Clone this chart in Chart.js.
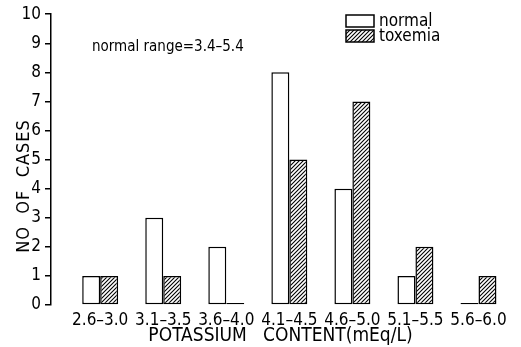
<!DOCTYPE html>
<html>
<head>
<meta charset="utf-8">
<script src="https://cdn.jsdelivr.net/npm/chart.js@4.4.1/dist/chart.umd.min.js"></script>
<style>
  html, body { margin: 0; padding: 0; background: #fff; }
  #wrap { width: 521px; height: 347px; position: relative; }
</style>
</head>
<body>
<div id="wrap"><canvas id="c" width="521" height="347"></canvas></div>
<script>
const categories = ["2.6–3.0", "3.1–3.5", "3.6–4.0", "4.1–4.5", "4.6–5.0", "5.1–5.5", "5.6–6.0"];
const normalCases = [1, 3, 2, 8, 4, 1, 0];
const toxemiaCases = [1, 1, 0, 5, 7, 2, 1];
const yTicks = [0, 1, 2, 3, 4, 5, 6, 7, 8, 9, 10];
const seriesNames = ["normal", "toxemia"];
const xTitle = "POTASSIUM   CONTENT(mEq/L)";
const yTitle = "NO  OF  CASES";
const note = "normal range=3.4–5.4";

const FONT = "'Liberation Sans Narrow', 'DejaVu Sans Condensed', 'Liberation Sans', sans-serif";
Chart.defaults.font.family = FONT;
Chart.defaults.color = '#000';

function hatch() {
  const p = document.createElement('canvas');
  p.width = 4; p.height = 4;
  const g = p.getContext('2d');
  g.fillStyle = '#fff'; g.fillRect(0, 0, 4, 4);
  g.strokeStyle = '#000'; g.lineWidth = 1.1;
  g.beginPath();
  g.moveTo(-1, 5); g.lineTo(5, -1);
  g.moveTo(-1, 1); g.lineTo(1, -1);
  g.moveTo(3, 5); g.lineTo(5, 3);
  g.stroke();
  return g.createPattern(p, 'repeat');
}
const hatchPattern = hatch();

const annotations = {
  id: 'annotations',
  afterDraw(chart) {
    const ctx = chart.ctx;
    ctx.save();
    ctx.fillStyle = '#000';
    ctx.textBaseline = 'middle';
    ctx.font = "15px " + FONT;
    ctx.textAlign = 'left';
    ctx.fillText(note, 92, 47);
    chart.data.datasets.forEach((ds, i) => {
      const y = 15 + i * 15;
      ctx.fillStyle = ds.backgroundColor;
      ctx.fillRect(346, y, 28, 12);
      ctx.strokeStyle = '#000'; ctx.lineWidth = 1.5;
      ctx.strokeRect(346, y, 28, 12);
      ctx.fillStyle = '#000';
      ctx.font = "17px " + FONT;
      ctx.fillText(ds.label, 379, y + 6.5);
    });
    ctx.translate(24, 186);
    ctx.rotate(-Math.PI / 2);
    ctx.textAlign = 'center';
    ctx.font = "18px " + FONT;
    ctx.letterSpacing = '1px';
    ctx.fillText(yTitle, 0, 0);
    ctx.restore();
  }
};

new Chart(document.getElementById('c'), {
  type: 'bar',
  data: {
    datasets: [
      { label: seriesNames[0], data: normalCases.map((v, i) => ({ x: i, y: v })),
        backgroundColor: '#fff', borderColor: '#000', borderWidth: 1.5, borderSkipped: false, minBarLength: 2 },
      { label: seriesNames[1], data: toxemiaCases.map((v, i) => ({ x: i, y: v })),
        backgroundColor: hatchPattern, borderColor: '#000', borderWidth: 1.5, borderSkipped: false, minBarLength: 2 }
    ]
  },
  options: {
    responsive: false,
    animation: false,
    devicePixelRatio: 1,
    layout: { padding: { left: 0, right: 11, top: 12, bottom: 0 } },
    datasets: { bar: { barPercentage: 1.0, categoryPercentage: 0.57 } },
    plugins: { legend: { display: false }, tooltip: { enabled: false } },
    scales: {
      x: {
        type: 'linear',
        offset: false,
        min: -0.78, max: 6.5,
        grid: { display: false, drawTicks: false, offset: false },
        border: { display: false },
        afterBuildTicks: (s) => { s.ticks = categories.map((_, i) => ({ value: i })); },
        afterFit: (s) => { s.height = 42; },
        ticks: { autoSkip: false, maxRotation: 0, padding: 5, font: { size: 17 },
          callback: (v) => categories[v] },
        title: { display: true, text: xTitle, font: { size: 19 }, padding: { top: 0, bottom: 0 } }
      },
      y: {
        min: 0, max: 10,
        afterBuildTicks: (s) => { s.ticks = yTicks.map(v => ({ value: v })); },
        afterFit: (s) => { s.width = 51; },
        grid: { display: true, drawOnChartArea: false, drawTicks: true, tickLength: 6, color: '#000', lineWidth: 1.5 },
        border: { display: true, color: '#000', width: 1.5 },
        ticks: { padding: 4, font: { size: 17 } }
      }
    }
  },
  plugins: [annotations]
});
</script>
</body>
</html>
